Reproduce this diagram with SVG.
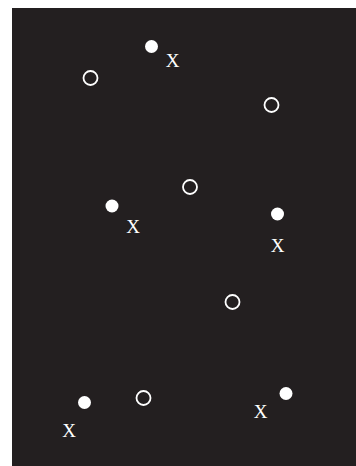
<svg xmlns="http://www.w3.org/2000/svg" width="356" height="466" viewBox="0 0 356 466">
<style>
.bg{fill:#231f20}
.open{fill:none;stroke:#ffffff;stroke-width:1.8}
.filled{fill:#ffffff}
.lbl{font-family:"Liberation Serif","Times New Roman",serif;font-size:19px;fill:#ffffff;text-anchor:middle}
</style>
<rect class="bg" x="12" y="8" width="344" height="458"/>
<g id="connectors"></g>
<g id="o1"><circle class="open" cx="90.5" cy="78" r="7"/></g>
<g id="o2"><circle class="open" cx="271.5" cy="105" r="7"/></g>
<g id="o3"><circle class="open" cx="190" cy="187" r="7"/></g>
<g id="o4"><circle class="open" cx="232.5" cy="302" r="7"/></g>
<g id="o5"><circle class="open" cx="143.5" cy="398" r="7"/></g>
<g id="x1"><circle class="filled" cx="151.5" cy="46.5" r="6.5"/><text class="lbl" x="172.5" y="66.5">X</text></g>
<g id="x2"><circle class="filled" cx="112" cy="206" r="6.5"/><text class="lbl" x="133" y="233">X</text></g>
<g id="x3"><circle class="filled" cx="277.5" cy="214" r="6.5"/><text class="lbl" x="277.5" y="251.5">X</text></g>
<g id="x4"><circle class="filled" cx="84.5" cy="402.5" r="6.5"/><text class="lbl" x="69" y="436.5">X</text></g>
<g id="x5"><circle class="filled" cx="286" cy="393.5" r="6.5"/><text class="lbl" x="260.5" y="417.5">X</text></g>
</svg>
